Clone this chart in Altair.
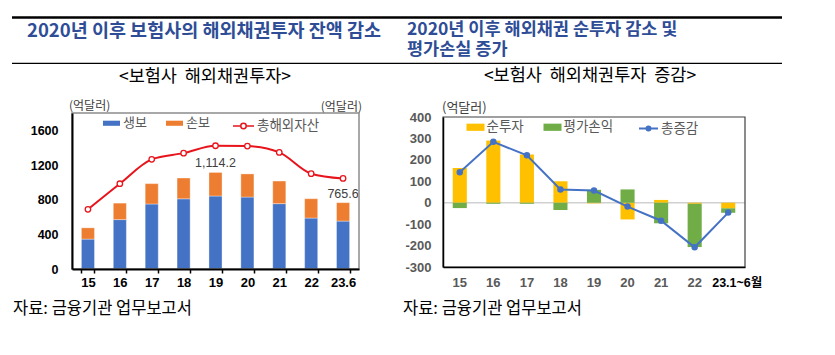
import altair as alt
import pandas as pd

KR = "Noto Sans CJK KR"
NUM = "Liberation Sans, Noto Sans CJK KR"

# ---------------- data: left chart (보험사 해외채권투자) ----------------
years_l = ["15", "16", "17", "18", "19", "20", "21", "22", "23.6"]
life = [345, 570, 750, 810, 842, 830, 754, 588, 553]          # 생보
nonlife = [130, 190, 235, 240, 272.2, 267, 261, 223, 212.6]    # 손보
total_assets = [688, 984, 1265, 1337, 1422, 1418, 1345, 1100, 1045]  # 총해외자산
bar_labels = ["", "", "", "", "1,114.2", "", "", "", "765.6"]

# ---------------- data: right chart (보험사 해외채권투자 증감) ----------------
years_r = ["15", "16", "17", "18", "19", "20", "21", "22", "23.1~6월"]
net_inv = [162, 290, 225, 100, -3, -78, 13, -5, -26]        # 순투자
val_gain = [-25, -5, -5, -34, 60, 62, -96, -202, -21]       # 평가손익
total_chg = [142, 284, 221, 62, 57, -18, -84, -208, -46]    # 총증감

series_l = ["생보", "손보"]
series_r = ["순투자", "평가손익"]

df_l_long = pd.DataFrame({
    "연도": years_l * 2,
    "종류": [series_l[0]] * len(years_l) + [series_l[1]] * len(years_l),
    "값": life + nonlife,
})
df_l = pd.DataFrame({
    "연도": years_l,
    "총해외자산": total_assets,
    "합계": [a + b for a, b in zip(life, nonlife)],
    "라벨": bar_labels,
})
df_r_long = pd.DataFrame({
    "연도": years_r * 2,
    "종류": [series_r[0]] * len(years_r) + [series_r[1]] * len(years_r),
    "값": net_inv + val_gain,
})
df_r = pd.DataFrame({"연도": years_r, "총증감": total_chg})

# ---------------- left chart ----------------
xL_scale = alt.Scale(domain=years_l, range=[72, 359], paddingInner=0.59, paddingOuter=0.295)
xL_axis = alt.Axis(orient="bottom", offset=-86, labelAngle=0, tickBand="extent", tickSize=4,
                   tickColor="black", tickWidth=1.5, domainColor="black", domainWidth=2,
                   labelFont=NUM, labelFontSize=13, labelFontWeight="bold", labelColor="black",
                   labelPadding=3, title=None, zindex=1)
yL_scale = alt.Scale(domain=[0, 1800], range=[269, 113], nice=False, zero=True)
yL_axis = alt.Axis(orient="left", offset=-72, values=[0, 400, 800, 1200, 1600], ticks=False,
                   grid=False, domainColor="black", domainWidth=2, labelFont=NUM,
                   labelFontSize=12.5, labelFontWeight="bold", labelColor="black",
                   labelPadding=14, labelExpr="toString(datum.value)", title=None, zindex=1)

def XL():
    return alt.X("연도:N", scale=xL_scale, axis=xL_axis)

bars_l = alt.Chart(df_l_long).mark_bar(stroke="white", strokeOpacity=0.35, strokeWidth=1).encode(
    x=XL(),
    y=alt.Y("값:Q", stack="zero", scale=yL_scale, axis=yL_axis),
    color=alt.Color("종류:N", scale=alt.Scale(domain=series_l, range=["#4472C4", "#ED7D31"]),
                    legend=alt.Legend(orient="none", legendX=103, legendY=114.5,
                                      direction="horizontal", title=None,
                                      symbolType="M-1,-0.3H1V0.3H-1Z", symbolSize=289,
                                      symbolStrokeWidth=0, labelFont=KR, labelFontSize=13,
                                      labelColor="#595959", labelOffset=3, columnPadding=19)),
    order=alt.Order("ord:Q"),
).transform_calculate(ord="indexof(['생보','손보'], datum['종류'])")

stroke_l = alt.Stroke("계열:N", scale=alt.Scale(domain=["총해외자산"], range=["#E8141B"]),
                      legend=alt.Legend(orient="none", legendX=232, legendY=114.5, title=None,
                                        symbolType="M-1,0H-0.26M0.26,0H1M-0.26,0A0.26,0.26,0,1,1,0.26,0A0.26,0.26,0,1,1,-0.26,0",
                                        symbolSize=441, symbolStrokeWidth=1.5,
                                        symbolFillColor="white", labelFont=KR, labelFontSize=13.5,
                                        labelColor="#595959", labelOffset=2))

line_l = alt.Chart(df_l).mark_line(interpolate="monotone", strokeWidth=2).encode(
    x=XL(), y=alt.Y("총해외자산:Q", scale=yL_scale, axis=yL_axis), stroke=stroke_l,
).transform_calculate(계열="'총해외자산'")

pts_l = alt.Chart(df_l).mark_point(shape="circle", size=30, fill="white", filled=False,
                                   strokeWidth=1.3, opacity=1).encode(
    x=XL(), y=alt.Y("총해외자산:Q", scale=yL_scale, axis=yL_axis), stroke=stroke_l,
).transform_calculate(계열="'총해외자산'")

text_l = alt.Chart(df_l).mark_text(dy=-9, font=NUM, fontSize=12.5, color="#404040").encode(
    x=XL(), y=alt.Y("합계:Q", scale=yL_scale, axis=yL_axis), text="라벨:N",
).transform_filter("datum['라벨'] != ''")

left = alt.layer(bars_l, line_l, pts_l, text_l)

# ---------------- right chart ----------------
LAST_R = years_r[-1]
xR_scale = alt.Scale(domain=years_r, range=[443, 745], paddingInner=0.58, paddingOuter=0.29)
xR_axis = alt.Axis(orient="bottom", offset=-88, labelAngle=0, ticks=False,
                   domainColor="black", domainWidth=1.5, labelFont=NUM,
                   labelFontSize={"condition": {"test": f"datum.value == '{LAST_R}'", "value": 12.5},
                                  "value": 13},
                   labelFontWeight="bold",
                   labelColor={"condition": {"test": f"datum.value == '{LAST_R}'", "value": "black"},
                               "value": "#595959"},
                   labelOffset={"condition": {"test": f"datum.value == '{LAST_R}'", "value": 9},
                                "value": 0},
                   labelPadding=9, title=None, zindex=1)
yR_scale = alt.Scale(domain=[-300, 400], range=[267, 117], nice=False, zero=False)
yR_axis = alt.Axis(orient="left", offset=-443, values=[-300, -200, -100, 0, 100, 200, 300, 400],
                   ticks=False, grid=False, domainColor="black", domainWidth=1.5,
                   labelFont=NUM, labelFontSize=13, labelFontWeight="bold", labelColor="#595959",
                   labelPadding=12, labelExpr="toString(datum.value)", title=None, zindex=1)

def XR():
    return alt.X("연도:N", scale=xR_scale, axis=xR_axis)

zero_r = alt.Chart(pd.DataFrame({"z": [0]})).mark_rule(color="#d0d0d0", strokeWidth=1.5).encode(
    y=alt.Y("z:Q", scale=yR_scale, axis=yR_axis), x=alt.value(443), x2=alt.value(745))

bars_r = alt.Chart(df_r_long).mark_bar().encode(
    x=XR(),
    y=alt.Y("값:Q", stack="zero", scale=yR_scale, axis=yR_axis),
    color=alt.Color("종류:N", scale=alt.Scale(domain=series_r, range=["#FFC000", "#70AD47"]),
                    legend=alt.Legend(orient="none", legendX=466.5, legendY=118,
                                      direction="horizontal", title=None,
                                      symbolType="M-1,-0.4H1V0.4H-1Z", symbolSize=324,
                                      symbolStrokeWidth=0, labelFont=KR, labelFontSize=13.5,
                                      labelColor="#595959", labelOffset=2, columnPadding=19)),
    order=alt.Order("ord:Q"),
).transform_calculate(ord="indexof(['순투자','평가손익'], datum['종류'])")

stroke_r = alt.Stroke("계열:N", scale=alt.Scale(domain=["총증감"], range=["#4472C4"]),
                      legend=alt.Legend(orient="none", legendX=638, legendY=118, title=None,
                                        symbolType="M-1,0H1M-0.21,0A0.21,0.21,0,1,1,0.21,0A0.21,0.21,0,1,1,-0.21,0",
                                        symbolSize=361, symbolStrokeWidth=2,
                                        symbolFillColor="#4472C4", labelFont=KR,
                                        labelFontSize=13.5, labelColor="#595959", labelOffset=2))

line_r = alt.Chart(df_r).mark_line(strokeWidth=2).encode(
    x=XR(), y=alt.Y("총증감:Q", scale=yR_scale, axis=yR_axis), stroke=stroke_r,
).transform_calculate(계열="'총증감'")

pts_r = alt.Chart(df_r).mark_point(shape="circle", size=20, filled=True, fill="#4472C4",
                                   opacity=1).encode(
    x=XR(), y=alt.Y("총증감:Q", scale=yR_scale, axis=yR_axis), stroke=stroke_r,
).transform_calculate(계열="'총증감'")

right = alt.layer(zero_r, bars_r, line_r, pts_r)

# ---------------- decorations ----------------
one = pd.DataFrame({"k": [0]})

def txt(s, x, y, **kw):
    return alt.Chart(one).mark_text(baseline="middle", **kw).encode(
        x=alt.value(x), y=alt.value(y), text=alt.value(s))

def hline(x1, x2, y, w):
    return alt.Chart(one).mark_rule(color="black", strokeWidth=w).encode(
        x=alt.value(x1), x2=alt.value(x2), y=alt.value(y))

def frame(x1, x2, y1, y2, col, w):
    return alt.Chart(one).mark_rect(fillOpacity=0, stroke=col, strokeWidth=w).encode(
        x=alt.value(x1), x2=alt.value(x2), y=alt.value(y1), y2=alt.value(y2))

TITLE_C = "#2E4D96"
NB = "\u00a0"
decos = [
    hline(12, 782, 17.5, 2.5),
    hline(12, 782, 63.3, 1.2),
    txt("2020년 이후 보험사의 해외채권투자 잔액 감소", 27, 30.5, align="left", font=KR,
        fontSize=18.5, fontWeight="bold", color=TITLE_C),
    txt("2020년 이후 해외채권 순투자 감소 및", 407, 29.5, align="left", font=KR,
        fontSize=17.5, fontWeight="bold", color=TITLE_C),
    txt("평가손실 증가", 407, 49.5, align="left", font=KR, fontSize=17.5, fontWeight="bold",
        color=TITLE_C),
    txt(f"<보험사{NB}{NB}해외채권투자>", 205, 77, align="center", font=KR, fontSize=17.5,
        color="black"),
    txt(f"<보험사{NB}{NB}해외채권투자{NB}{NB}증감>", 590, 76, align="center", font=KR,
        fontSize=17.5, color="black"),
    txt("(억달러)", 69, 106, align="left", font=KR, fontSize=12, color="#404040"),
    txt("(억달러)", 362, 107, align="right", font=KR, fontSize=12, color="#404040"),
    txt("(억달러)", 442, 108, align="left", font=KR, fontSize=13, color="#404040"),
    txt("자료: 금융기관 업무보고서", 13, 309, align="left", font=KR, fontSize=16.5,
        color="black"),
    txt("자료: 금융기관 업무보고서", 403, 309, align="left", font=KR, fontSize=16.5,
        color="black"),
    frame(72, 359, 113, 269, "#8c8c8c", 1.5),
    frame(443, 745, 117, 267, "#404040", 1.2),
]

chart = alt.layer(left, right, *decos).resolve_scale(
    x="independent", y="independent", color="independent", stroke="independent"
).properties(
    width=835, height=355, autosize=alt.AutoSizeParams(type="none"), padding=0,
    background="white",
).configure_view(stroke=None)

chart.save("out.html", embed_options={"renderer": "svg", "actions": False})
